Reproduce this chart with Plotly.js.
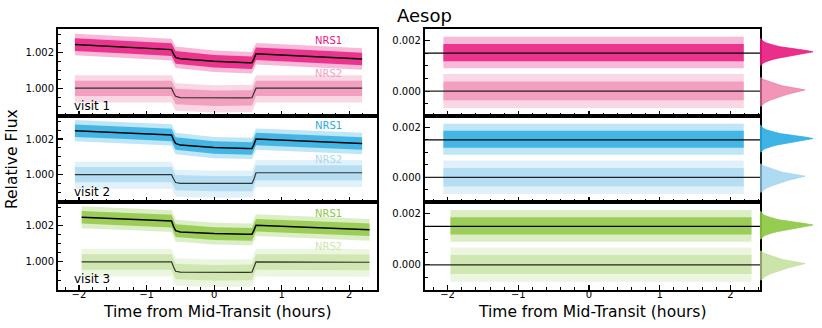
<!DOCTYPE html>
<html>
<head>
<meta charset="utf-8">
<script src="https://cdn.plot.ly/plotly-3.0.1.min.js"></script>
<style>
  html, body { margin: 0; padding: 0; background: #fff; }
  #chart { width: 822px; height: 328px; }
</style>
</head>
<body>
<div id="chart"></div>
<script>
// --- data (hours from mid-transit, relative flux) ---
const visitNames = ['visit 1', 'visit 2', 'visit 3'];

// model curves
const modelX1 = [-2.06, -0.63, -0.60, -0.57, -0.5, 0, 0.5, 0.56, 0.59, 0.62, 2.19];
const modelX2 = [-2.06, -0.63, -0.60, -0.57, -0.5, 0, 0.5, 0.56, 0.59, 0.62, 2.19];
const modelX3 = [-1.96, -0.63, -0.60, -0.57, -0.5, 0, 0.5, 0.56, 0.59, 0.62, 2.30];
const v1Nrs1Model = [1.00243, 1.00215, 1.00190, 1.00172, 1.00164, 1.00150, 1.00142, 1.00142, 1.00165, 1.00192, 1.00163];
const v1Nrs2Model = [1.00000, 1.00000, 0.99975, 0.99955, 0.99948, 0.99945, 0.99946, 0.99947, 0.99972, 1.00000, 1.00000];
const v2Nrs1Model = [1.00247, 1.00223, 1.00195, 1.00175, 1.00166, 1.00152, 1.00147, 1.00147, 1.00170, 1.00200, 1.00175];
const v2Nrs2Model = [1.00000, 1.00000, 0.99975, 0.99955, 0.99950, 0.99949, 0.99949, 0.99950, 0.99975, 1.00010, 1.00010];
const v3Nrs1Model = [1.00246, 1.00225, 1.00195, 1.00172, 1.00165, 1.00156, 1.00152, 1.00152, 1.00175, 1.00202, 1.00177];
const v3Nrs2Model = [1.00000, 1.00000, 0.99972, 0.99948, 0.99943, 0.99941, 0.99942, 0.99943, 0.99970, 1.00000, 0.99998];

// scatter envelopes of the raw light curves (outer = sparse spikes, inner = dense core)
const bandX1 = [-2.06, -1.3, -0.63, -0.57, 0, 0.56, 0.62, 1.4, 2.19];
const bandX2 = [-2.06, -1.3, -0.63, -0.57, 0, 0.56, 0.62, 1.4, 2.19];
const bandX3 = [-1.96, -1.3, -0.63, -0.57, 0, 0.56, 0.62, 1.4, 2.30];

const v1Nrs1OutHi = [1.00303, 1.00288, 1.00275, 1.00232, 1.00210, 1.00202, 1.00252, 1.00238, 1.00223];
const v1Nrs1OutLo = [1.00183, 1.00168, 1.00155, 1.00112, 1.00090, 1.00082, 1.00132, 1.00118, 1.00103];
const v1Nrs1InHi  = [1.00278, 1.00263, 1.00250, 1.00207, 1.00185, 1.00177, 1.00227, 1.00213, 1.00198];
const v1Nrs1InLo  = [1.00208, 1.00193, 1.00180, 1.00137, 1.00115, 1.00107, 1.00157, 1.00143, 1.00128];
const v1Nrs2OutHi = [1.00072, 1.00072, 1.00072, 1.00027, 1.00017, 1.00019, 1.00072, 1.00072, 1.00072];
const v1Nrs2OutLo = [0.99920, 0.99920, 0.99920, 0.99875, 0.99865, 0.99867, 0.99920, 0.99920, 0.99920];
const v1Nrs2InHi  = [1.00042, 1.00042, 1.00042, 0.99997, 0.99987, 0.99989, 1.00042, 1.00042, 1.00042];
const v1Nrs2InLo  = [0.99956, 0.99956, 0.99956, 0.99911, 0.99901, 0.99903, 0.99956, 0.99956, 0.99956];

const v2Nrs1OutHi = [1.00307, 1.00295, 1.00283, 1.00235, 1.00212, 1.00207, 1.00260, 1.00248, 1.00235];
const v2Nrs1OutLo = [1.00187, 1.00175, 1.00163, 1.00115, 1.00092, 1.00087, 1.00140, 1.00128, 1.00115];
const v2Nrs1InHi  = [1.00282, 1.00270, 1.00258, 1.00210, 1.00187, 1.00182, 1.00235, 1.00223, 1.00210];
const v2Nrs1InLo  = [1.00212, 1.00200, 1.00188, 1.00140, 1.00117, 1.00112, 1.00165, 1.00153, 1.00140];
const v2Nrs2OutHi = [1.00072, 1.00072, 1.00072, 1.00027, 1.00021, 1.00022, 1.00082, 1.00082, 1.00082];
const v2Nrs2OutLo = [0.99920, 0.99920, 0.99920, 0.99875, 0.99869, 0.99870, 0.99930, 0.99930, 0.99930];
const v2Nrs2InHi  = [1.00042, 1.00042, 1.00042, 0.99997, 0.99991, 0.99992, 1.00052, 1.00052, 1.00052];
const v2Nrs2InLo  = [0.99956, 0.99956, 0.99956, 0.99911, 0.99905, 0.99906, 0.99966, 0.99966, 0.99966];

const v3Nrs1OutHi = [1.00306, 1.00296, 1.00285, 1.00232, 1.00216, 1.00212, 1.00262, 1.00250, 1.00237];
const v3Nrs1OutLo = [1.00186, 1.00176, 1.00165, 1.00112, 1.00096, 1.00092, 1.00142, 1.00130, 1.00117];
const v3Nrs1InHi  = [1.00281, 1.00271, 1.00260, 1.00207, 1.00191, 1.00187, 1.00237, 1.00225, 1.00212];
const v3Nrs1InLo  = [1.00211, 1.00201, 1.00190, 1.00137, 1.00121, 1.00117, 1.00167, 1.00155, 1.00142];
const v3Nrs2OutHi = [1.00072, 1.00072, 1.00072, 1.00020, 1.00013, 1.00015, 1.00072, 1.00072, 1.00070];
const v3Nrs2OutLo = [0.99920, 0.99920, 0.99920, 0.99868, 0.99861, 0.99863, 0.99920, 0.99920, 0.99918];
const v3Nrs2InHi  = [1.00042, 1.00042, 1.00042, 0.99990, 0.99983, 0.99985, 1.00042, 1.00042, 1.00040];
const v3Nrs2InLo  = [0.99956, 0.99956, 0.99956, 0.99904, 0.99897, 0.99899, 0.99956, 0.99956, 0.99954];

// residuals (NRS1 offset by +0.0015)
const resX1 = [-2.06, 2.19];
const resX2 = [-2.06, 2.19];
const resX3 = [-1.96, 2.30];
const resLevels = [0.0015, 0.0];
const resNrs1OutHi = [0.00214, 0.00214];
const resNrs1OutLo = [0.00090, 0.00090];
const resNrs1InHi  = [0.00186, 0.00186];
const resNrs1InLo  = [0.00118, 0.00118];
const resNrs2OutHi = [0.00068, 0.00068];
const resNrs2OutLo = [-0.00066, -0.00066];
const resNrs2InHi  = [0.00038, 0.00038];
const resNrs2InLo  = [-0.00036, -0.00036];

// residual histograms (relative counts per bin)
const histBins1 = [0.00100, 0.00105, 0.00110, 0.00115, 0.00120, 0.00125, 0.00130, 0.00135, 0.00140, 0.00145,
                   0.00150, 0.00155, 0.00160, 0.00165, 0.00170, 0.00175, 0.00180, 0.00185, 0.00190, 0.00195,
                   0.00200, 0.00205, 0.00210];
const histCounts1 = [0.01, 0.03, 0.06, 0.10, 0.16, 0.24, 0.34, 0.48, 0.62, 0.78,
                     0.93, 1.00, 0.88, 0.70, 0.52, 0.38, 0.28, 0.19, 0.12, 0.07,
                     0.04, 0.02, 0.01];
const histBins2 = [-0.00060, -0.00055, -0.00050, -0.00045, -0.00040, -0.00035, -0.00030, -0.00025, -0.00020, -0.00015,
                   -0.00010, -0.00005, 0.00000, 0.00005, 0.00010, 0.00015, 0.00020, 0.00025, 0.00030, 0.00035,
                   0.00040, 0.00045, 0.00050, 0.00055];
const histCounts2 = [0.02, 0.04, 0.07, 0.10, 0.14, 0.20, 0.27, 0.33, 0.40, 0.48,
                     0.56, 0.66, 0.76, 0.85, 0.72, 0.55, 0.44, 0.36, 0.28, 0.20,
                     0.13, 0.08, 0.04, 0.01];

// colours per visit (r,g,b)
const nrs1Colors = ['232,23,125', '41,171,226', '140,198,63'];
const nrs2Colors = ['237,113,160', '147,205,237', '187,219,140'];
const nrs2Labels = ['rgb(243,160,192)', 'rgb(170,215,243)', 'rgb(205,228,170)'];

const visits = [
  { mx: modelX1, m1: v1Nrs1Model, m2: v1Nrs2Model, bx: bandX1,
    b1: [v1Nrs1OutHi, v1Nrs1OutLo, v1Nrs1InHi, v1Nrs1InLo], b2: [v1Nrs2OutHi, v1Nrs2OutLo, v1Nrs2InHi, v1Nrs2InLo],
    rx: resX1, lab1: 1.00268, lab2: 1.00083 },
  { mx: modelX2, m1: v2Nrs1Model, m2: v2Nrs2Model, bx: bandX2,
    b1: [v2Nrs1OutHi, v2Nrs1OutLo, v2Nrs1InHi, v2Nrs1InLo], b2: [v2Nrs2OutHi, v2Nrs2OutLo, v2Nrs2InHi, v2Nrs2InLo],
    rx: resX2, lab1: 1.00278, lab2: 1.00086 },
  { mx: modelX3, m1: v3Nrs1Model, m2: v3Nrs2Model, bx: bandX3,
    b1: [v3Nrs1OutHi, v3Nrs1OutLo, v3Nrs1InHi, v3Nrs1InLo], b2: [v3Nrs2OutHi, v3Nrs2OutLo, v3Nrs2InHi, v3Nrs2InLo],
    rx: resX3, lab1: 1.00269, lab2: 1.00086 }
];

// --- layout geometry ---
const FONT = 'DejaVu Sans, sans-serif';
const leftDom = [0.0706, 0.4586];
const rightDom = [0.517, 0.9246];
const histDom = [0.9246, 1.0];
const rowDoms = [[0.6463, 0.9116], [0.3841, 0.6463], [0.1159, 0.3841]];

function band(x, hi, lo, rgb, alpha, xa, ya) {
  return {
    x: x.concat(x.slice().reverse()),
    y: hi.concat(lo.slice().reverse()),
    xaxis: xa, yaxis: ya, type: 'scatter', mode: 'lines',
    fill: 'toself', fillcolor: 'rgba(' + rgb + ',' + alpha + ')',
    line: { width: 0 }, hoverinfo: 'skip'
  };
}

function hist(counts, bins, rgb, alpha, xa, ya) {
  return {
    x: counts, y: bins, xaxis: xa, yaxis: ya, type: 'scatter', mode: 'lines',
    fill: 'tozerox', fillcolor: 'rgba(' + rgb + ',' + alpha + ')',
    line: { width: 0.8, color: 'rgba(' + rgb + ',' + alpha + ')' }, hoverinfo: 'skip'
  };
}

function frameAxis(extra) {
  return Object.assign({
    showline: true, linewidth: 2, linecolor: 'black', mirror: true,
    ticks: 'inside', ticklen: 5, tickwidth: 1.2, tickcolor: 'black',
    showgrid: false, zeroline: false,
    tickfont: { family: FONT, size: 10, color: 'black' }
  }, extra);
}

const traces = [];
const layout = {
  width: 822, height: 328,
  margin: { l: 0, r: 0, t: 0, b: 0 },
  paper_bgcolor: 'white', plot_bgcolor: 'white',
  showlegend: false,
  font: { family: FONT, color: 'black' },
  annotations: [], shapes: []
};

const minorX = { ticks: 'inside', ticklen: 3, dtick: 0.2, tickcolor: 'black', tickwidth: 1 };
const minorY = { ticks: 'inside', ticklen: 3, dtick: 0.0005, tickcolor: 'black', tickwidth: 1 };

visits.forEach((v, i) => {
  const lx = 'x' + (i + 1), ly = 'y' + (i + 1);
  const rx = 'x' + (i + 4), ry = 'y' + (i + 4);
  const hx = 'x' + (i + 7);
  const c1 = nrs1Colors[i], c2 = nrs2Colors[i];

  // light curves
  traces.push(band(v.bx, v.b2[0], v.b2[1], c2, 0.28, lx, ly));
  traces.push(band(v.bx, v.b2[2], v.b2[3], c2, 0.55, lx, ly));
  traces.push(band(v.bx, v.b1[0], v.b1[1], c1, 0.3, lx, ly));
  traces.push(band(v.bx, v.b1[2], v.b1[3], c1, 0.82, lx, ly));
  traces.push({ x: v.mx, y: v.m2, xaxis: lx, yaxis: ly, type: 'scatter', mode: 'lines',
    line: { color: '#333', width: 1.2 } });
  traces.push({ x: v.mx, y: v.m1, xaxis: lx, yaxis: ly, type: 'scatter', mode: 'lines',
    line: { color: 'black', width: 1.5 } });

  // residuals
  traces.push(band(v.rx, resNrs2OutHi, resNrs2OutLo, c2, 0.28, rx, ry));
  traces.push(band(v.rx, resNrs2InHi, resNrs2InLo, c2, 0.55, rx, ry));
  traces.push(band(v.rx, resNrs1OutHi, resNrs1OutLo, c1, 0.3, rx, ry));
  traces.push(band(v.rx, resNrs1InHi, resNrs1InLo, c1, 0.82, rx, ry));

  // histograms
  traces.push(hist(histCounts1, histBins1, c1, 0.9, hx, ry));
  traces.push(hist(histCounts2, histBins2, c2, 0.75, hx, ry));

  const bottom = i === 2;
  const sfx = (n) => n === 1 ? '' : String(n);

  layout['xaxis' + sfx(i + 1)] = frameAxis({
    domain: leftDom, anchor: ly, range: [-2.31, 2.41], dtick: 1, tick0: 0,
    showticklabels: bottom, ticklabelstandoff: -6, minor: minorX
  });
  layout['yaxis' + sfx(i + 1)] = frameAxis({
    domain: rowDoms[i], anchor: lx, range: [0.99845, 1.0033], dtick: 0.002, tick0: 1.0, tickformat: '.3f',
    minor: minorY
  });
  layout['xaxis' + (i + 4)] = frameAxis({
    domain: rightDom, anchor: ry, range: [-2.32, 2.42], dtick: 1, tick0: 0,
    showticklabels: bottom, ticklabelstandoff: -6, minor: minorX
  });
  layout['yaxis' + (i + 4)] = frameAxis({
    domain: rowDoms[i], anchor: rx, range: [-0.00098, 0.00245], dtick: 0.002, tick0: 0, tickformat: '.3f',
    minor: minorY
  });
  layout['xaxis' + (i + 7)] = {
    domain: histDom, anchor: ry, range: [0, 1.17], visible: false, showgrid: false, zeroline: false
  };

  // offset / zero lines on residual panels
  resLevels.forEach((lvl, k) => {
    layout.shapes.push({ type: 'line', xref: rx + ' domain', yref: ry, x0: 0, x1: 1, y0: lvl, y1: lvl,
      line: { color: k === 0 ? 'black' : '#222', width: 1.3 }, layer: 'above' });
  });

  // labels
  layout.annotations.push({ text: visitNames[i], xref: lx + ' domain', yref: ly + ' domain',
    x: 0.044, y: 0.12, xanchor: 'left', yanchor: 'middle', showarrow: false,
    font: { family: FONT, size: 12, color: 'black' } });
  layout.annotations.push({ text: 'NRS1', xref: lx, yref: ly, x: 1.7, y: v.lab1,
    xanchor: 'center', yanchor: 'middle', showarrow: false,
    font: { family: FONT, size: 10, color: 'rgb(' + c1 + ')' } });
  layout.annotations.push({ text: 'NRS2', xref: lx, yref: ly, x: 1.7, y: v.lab2,
    xanchor: 'center', yanchor: 'middle', showarrow: false,
    font: { family: FONT, size: 10, color: nrs2Labels[i] } });
});

layout.annotations.push(
  { text: 'Aesop', xref: 'paper', yref: 'paper', x: 0.517, y: 1 - 15 / 328,
    xanchor: 'center', yanchor: 'middle', showarrow: false, font: { family: FONT, size: 18, color: 'black' } },
  { text: 'Relative Flux', xref: 'paper', yref: 'paper', x: 12 / 822, y: 1 - 159 / 328, textangle: -90,
    xanchor: 'center', yanchor: 'middle', showarrow: false, font: { family: FONT, size: 15.5, color: 'black' } },
  { text: 'Time from Mid-Transit (hours)', xref: 'paper', yref: 'paper', x: (leftDom[0] + leftDom[1]) / 2,
    y: 1 - 312 / 328, xanchor: 'center', yanchor: 'middle', showarrow: false, font: { family: FONT, size: 15.5, color: 'black' } },
  { text: 'Time from Mid-Transit (hours)', xref: 'paper', yref: 'paper', x: (rightDom[0] + rightDom[1]) / 2,
    y: 1 - 312 / 328, xanchor: 'center', yanchor: 'middle', showarrow: false, font: { family: FONT, size: 15.5, color: 'black' } }
);

Plotly.newPlot('chart', traces, layout, { displayModeBar: false, staticPlot: true });
</script>
</body>
</html>
